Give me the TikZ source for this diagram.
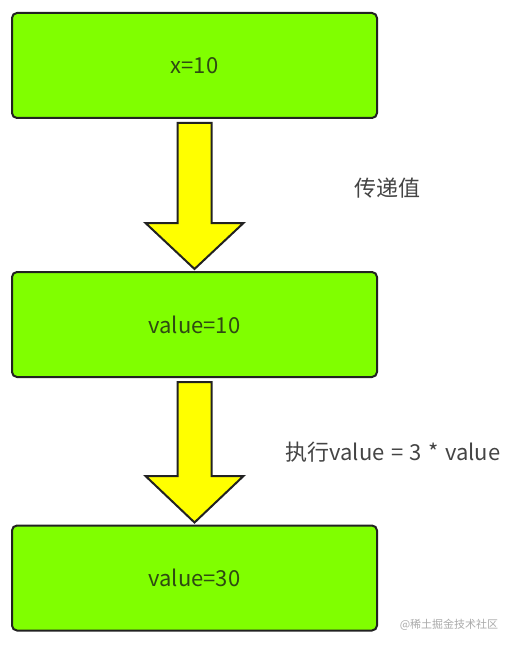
\documentclass[tikz,border=0pt]{standalone}
\usepackage{fontspec}
\setmainfont{Noto Sans CJK SC}
\usetikzlibrary{calc}
\definecolor{boxgreen}{HTML}{80FF00}
\definecolor{boxline}{HTML}{222222}
\definecolor{boxtext}{HTML}{2E4A12}
\definecolor{labeltext}{HTML}{444444}
\definecolor{arrowyellow}{HTML}{FFFF00}
\definecolor{wmark}{HTML}{AAAAAA}
\newcommand{\gp}{\hspace{6.5pt}}
\begin{document}
\begin{tikzpicture}[x=1pt,y=-1pt,
  greenbox/.style={draw=boxline, line width=2pt, fill=boxgreen, rounded corners=5pt,
    minimum width=365pt, minimum height=105pt, inner sep=0pt, text=boxtext,
    font=\fontsize{22}{24}\selectfont},
  blockarrow/.style={draw=boxline, line width=2pt, fill=arrowyellow, line join=miter},
  lbl/.style={text=labeltext, font=\fontsize{22}{24}\selectfont, inner sep=0pt}]
\useasboundingbox (0,0) rectangle (515,647);
\node[greenbox] (b1) at (194.5,65.5) {x=10};
\node[greenbox] (b2) at (194.5,324.5) {value=10};
\node[greenbox] (b3) at (194.5,578) {value=30};
% block arrow 1
\draw[blockarrow] ($(b1.south)+(-17,4)$) -- ($(b1.south)+(17,4)$) -- ($(b1.south)+(17,104)$)
  -- ($(b1.south)+(49,104)$) -- ($(b2.north)+(0,-2)$) -- ($(b1.south)+(-49,104)$)
  -- ($(b1.south)+(-17,104)$) -- cycle;
% block arrow 2
\draw[blockarrow] ($(b2.south)+(-17,4)$) -- ($(b2.south)+(17,4)$) -- ($(b2.south)+(17,98)$)
  -- ($(b2.south)+(49,98)$) -- ($(b3.north)+(0,-2)$) -- ($(b2.south)+(-49,98)$)
  -- ($(b2.south)+(-17,98)$) -- cycle;
\node[lbl] (l1) at (387,188) {传递值};
\node[lbl] (l2) at (393,452) {执行value\gp=\gp3\gp*\gp value};
\node[text=wmark, font=\fontsize{11}{13}\selectfont, inner sep=0pt] (wm) at (449,625) {@稀土掘金技术社区};
\end{tikzpicture}
\end{document}
